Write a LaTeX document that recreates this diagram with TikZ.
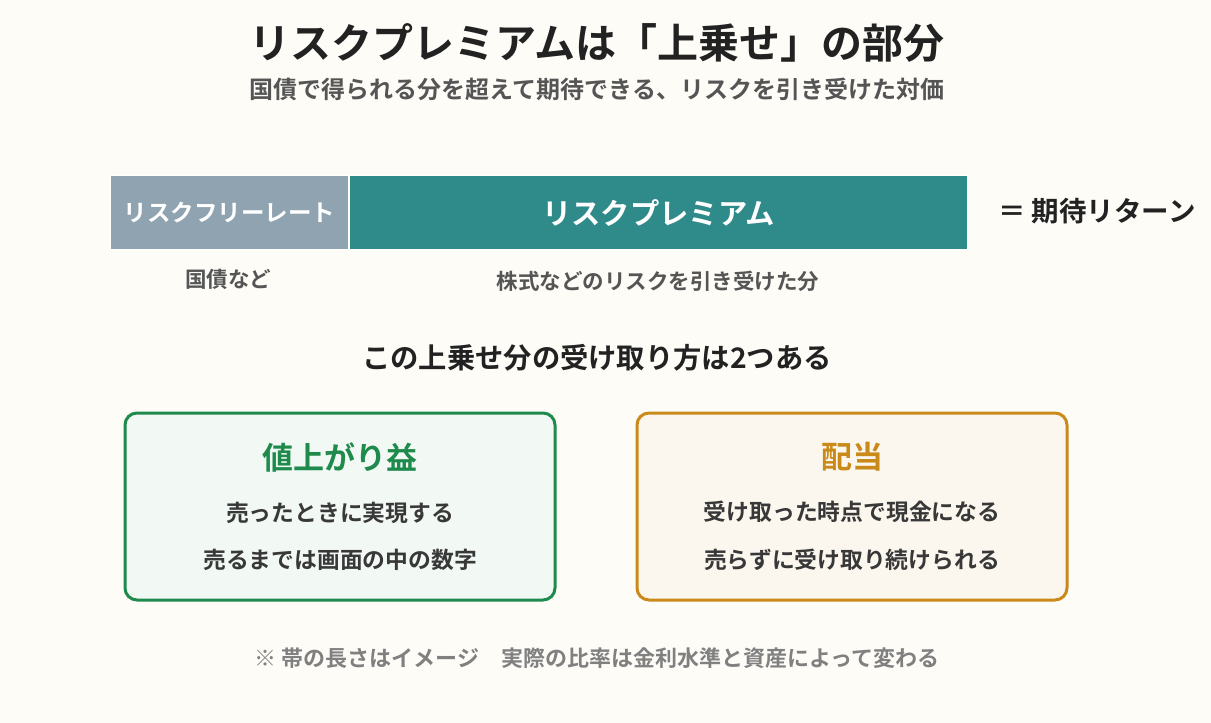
\documentclass[tikz,border=0pt]{standalone}
\usepackage{fontspec}
\setmainfont{Noto Sans CJK JP}[BoldFont={* Bold}]
\newcommand{\fs}[1]{\fontsize{#1}{#1}\bfseries\selectfont}
\begin{document}
\begin{tikzpicture}[x=1pt,y=-1pt,
  t/.style={inner sep=0,font=\bfseries},
  box/.style={rounded corners=12,line width=3},
  bar/.style={draw=white,line width=1.5}]
\definecolor{bg}{HTML}{FDFCF7}
\definecolor{gbar}{HTML}{8FA3B0}
\definecolor{teal}{HTML}{2E8B8A}
\definecolor{grn}{HTML}{1E8A4C}
\definecolor{org}{HTML}{C98A1A}
\definecolor{ink}{HTML}{222222}
\definecolor{sub}{HTML}{555555}
\fill[bg] (0,0) rectangle (1211,723);
\useasboundingbox (0,0) rectangle (1211,723);
\node[t,font=\fs{41},text=ink] (title) at (597,43) {リスクプレミアムは「上乗せ」の部分};
\node[t,font=\fs{24},text=sub] (st) at (597,89) {国債で得られる分を超えて期待できる、リスクを引き受けた対価};
\node[bar,fill=gbar,minimum width=239,minimum height=74,inner sep=0] (rf) at (229.5,212.5) {};
\node[t,text=white,font=\fs{23.5}] (rft) at (rf) {リスクフリーレート};
\node[bar,fill=teal,minimum width=618,minimum height=74,inner sep=0,text=white,font=\fs{29.3}] (rp) at (658.5,212.5) {リスクプレミアム};
\node[t,anchor=west,font=\fs{27.5},text=ink] (er) at (998,211) {＝ 期待リターン};
\node[t,font=\fs{21.5},text=sub] (l1) at (228,279) {国債など};
\node[t,font=\fs{21.5},text=sub] (l2) at (658,281) {株式などのリスクを引き受けた分};
\node[t,font=\fs{28.3},text=ink] (q) at (597,358) {この上乗せ分の受け取り方は2つある};
\node[box,draw=grn,fill=grn!6,minimum width=430,minimum height=187] (b1) at (340,506.5) {};
\node[box,draw=org,fill=org!7,minimum width=430,minimum height=187] (b2) at (852,506.5) {};
\node[t,font=\fs{31},text=grn] (h1) at (340,457) {値上がり益};
\node[t,font=\fs{22.8},text=ink!90] (a1) at (340,513) {売ったときに実現する};
\node[t,font=\fs{22.8},text=ink!90] (a2) at (340,560) {売るまでは画面の中の数字};
\node[t,font=\fs{31},text=org] (h2) at (852,457) {配当};
\node[t,font=\fs{22.8},text=ink!90] (c1) at (852,512) {受け取った時点で現金になる};
\node[t,font=\fs{22.8},text=ink!90] (c2) at (852,560) {売らずに受け取り続けられる};
\node[t,font=\fs{22},text=black!50] (fn) at (597,658) {※ 帯の長さはイメージ\quad 実際の比率は金利水準と資産によって変わる};
\end{tikzpicture}
\end{document}
